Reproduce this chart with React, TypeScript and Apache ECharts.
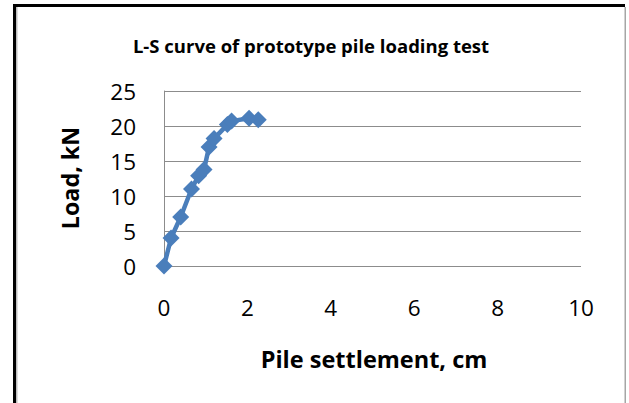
import React, { useEffect, useRef } from "react";
import * as echarts from "echarts";

const chartTitle = "L-S curve of prototype pile loading test";
const xAxisTitle = "Pile settlement, cm";
const yAxisTitle = "Load, kN";

// Pile settlement (cm) and load (kN)
const settlement = [0, 0.17, 0.4, 0.66, 0.83, 0.96, 1.08, 1.2, 1.52, 1.62, 2.04, 2.26];
const load = [0, 4, 7, 11, 12.9, 13.8, 17, 18.2, 20.2, 20.7, 21.1, 20.9];

// axis ranges: [min, max, interval]
const xRange = [0, 10, 2];
const yRange = [0, 25, 5];

const FONT = "'Open Sans', Lato, sans-serif";
const BLUE = "#4A7EBB";
const GRID_GREY = "#8C8C8C";

export default function App() {
  const ref = useRef<HTMLDivElement>(null);
  useEffect(() => {
    if (!ref.current) return;
    const chart = echarts.init(ref.current, undefined, { renderer: "svg" });
    const points = settlement.map((s, i) => [s, load[i]]);
    chart.setOption({
      animation: false,
      backgroundColor: "#ffffff",
      grid: { left: 164, right: 48, top: 91, bottom: 137, containLabel: false },
      xAxis: {
        type: "value",
        min: xRange[0],
        max: xRange[1],
        interval: xRange[2],
        axisLine: { show: false },
        axisTick: { show: false },
        splitLine: { show: false },
        axisLabel: { color: "#000", fontFamily: FONT, fontSize: 22.5, margin: 30 },
      },
      yAxis: {
        type: "value",
        min: yRange[0],
        max: yRange[1],
        interval: yRange[2],
        axisLine: { show: true, lineStyle: { color: GRID_GREY, width: 1 } },
        axisTick: { show: false },
        splitLine: { show: true, lineStyle: { color: GRID_GREY, width: 1 } },
        axisLabel: { color: "#000", fontFamily: FONT, fontSize: 22.5, margin: 28 },
      },
      series: [
        {
          type: "line",
          data: points,
          symbol: "diamond",
          symbolSize: 17,
          lineStyle: { color: BLUE, width: 4.5 },
          itemStyle: { color: BLUE },
          z: 5,
        },
      ],
      graphic: [
        { type: "rect", shape: { x: 13, y: 4, width: 612, height: 3 }, style: { fill: "#000" }, silent: true },
        { type: "rect", shape: { x: 13, y: 4, width: 3, height: 400 }, style: { fill: "#000" }, silent: true },
        { type: "rect", shape: { x: 16, y: 7, width: 1.5, height: 400 }, style: { fill: "#BDBDBD" }, silent: true },
        { type: "rect", shape: { x: 624.5, y: 7, width: 1.5, height: 400 }, style: { fill: "#A6A6A6" }, silent: true },
        {
          type: "text",
          x: 311,
          y: 45,
          style: { text: chartTitle, fontFamily: FONT, fontWeight: "bold", fontSize: 18.5, fill: "#000", align: "center", verticalAlign: "middle" },
        },
        {
          type: "text",
          x: 70,
          y: 178,
          rotation: Math.PI / 2,
          style: { text: yAxisTitle, fontFamily: FONT, fontWeight: "bold", fontSize: 23.3, fill: "#000", align: "center", verticalAlign: "middle" },
        },
        {
          type: "text",
          x: 374,
          y: 359,
          style: { text: xAxisTitle, fontFamily: FONT, fontWeight: "bold", fontSize: 23.5, fill: "#000", align: "center", verticalAlign: "middle" },
        },
      ],
    });
    return () => chart.dispose();
  }, []);
  return <div ref={ref} style={{ position: "fixed", left: 0, top: 0, width: 629, height: 403 }} />;
}
